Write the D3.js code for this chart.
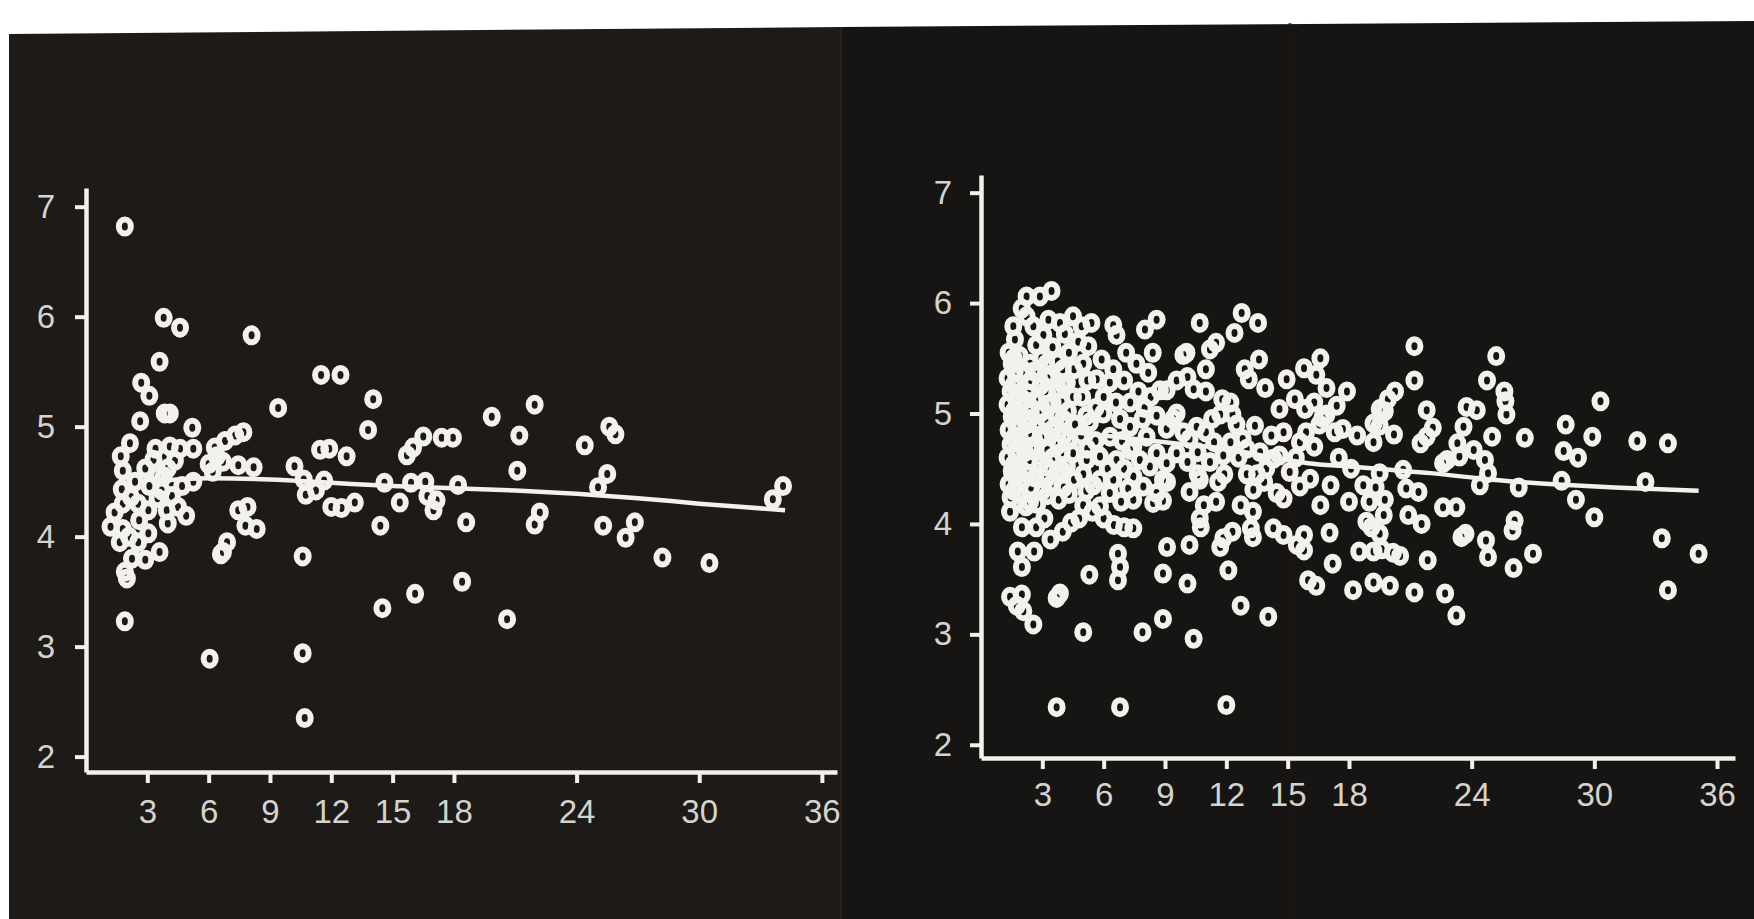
<!DOCTYPE html>
<html>
<head>
<meta charset="utf-8">
<script src="https://cdn.jsdelivr.net/npm/d3@7"></script>
<style>
  body { margin: 0; background: #ffffff; }
  svg { display: block; }
</style>
</head>
<body>
<svg id="chart" width="1754" height="919"></svg>
<script>
// ---- data ----
const yTicks = [2, 3, 4, 5, 6, 7];
const xTicks = [3, 6, 9, 12, 15, 18, 24, 30, 36];

// left panel: [x, y]
const leftPoints = [
  [1.9, 6.82], [3.8, 5.99], [4.6, 5.90], [8.1, 5.83], [3.6, 5.59], [2.7, 5.40], [3.1, 5.28],
  [2.65, 5.05], [3.85, 5.12], [4.1, 5.12], [5.2, 4.99], [9.4, 5.17], [11.5, 5.47], [12.45, 5.47],
  [14.05, 5.25], [13.8, 4.97], [19.85, 5.09], [21.95, 5.2], [21.2, 4.92], [24.4, 4.83], [25.6, 5.0],
  [25.9, 4.93], [21.1, 4.6], [25.5, 4.57], [25.05, 4.45], [34.1, 4.46], [33.6, 4.34], [22.2, 4.22],
  [21.95, 4.11], [18.6, 4.13], [25.3, 4.1], [26.85, 4.13], [26.4, 3.99], [28.2, 3.81], [30.5, 3.76],
  [18.4, 3.59], [20.6, 3.25], [18.2, 4.47], [11.45, 4.79], [11.9, 4.8], [12.75, 4.73], [15.7, 4.74],
  [16.0, 4.81], [16.5, 4.91], [17.4, 4.9], [17.95, 4.9], [10.2, 4.64], [10.65, 4.52], [10.75, 4.38],
  [11.25, 4.42], [11.65, 4.51], [12.0, 4.27], [12.5, 4.26], [13.15, 4.31], [14.6, 4.49], [15.35, 4.31],
  [15.9, 4.49], [16.6, 4.5], [16.7, 4.37], [17.15, 4.33], [17.0, 4.24], [14.4, 4.1], [10.6, 3.82],
  [16.1, 3.48], [14.5, 3.35], [10.6, 2.94], [10.7, 2.35], [6.05, 2.89], [1.9, 3.23], [7.45, 4.24],
  [7.9, 4.27], [7.8, 4.1], [8.35, 4.07], [6.7, 3.86], [6.9, 3.95], [6.6, 3.84], [7.7, 4.95],
  [7.3, 4.92], [6.8, 4.87], [6.3, 4.81], [6.4, 4.73], [5.25, 4.8], [4.6, 4.8], [4.1, 4.82],
  [3.4, 4.8], [4.35, 4.69], [2.15, 4.85], [1.7, 4.73], [6.0, 4.66], [6.7, 4.68], [7.45, 4.65],
  [8.2, 4.63], [5.25, 4.5], [2.9, 4.62], [3.5, 4.56], [1.8, 4.6], [6.2, 4.59], [1.75, 4.43],
  [2.2, 4.36], [3.1, 4.46], [3.7, 4.42], [4.2, 4.37], [2.55, 4.3], [3.05, 4.24], [3.95, 4.24],
  [4.5, 4.27], [4.9, 4.19], [4.0, 4.12], [1.4, 4.22], [1.2, 4.09], [1.8, 4.07], [1.65, 3.95],
  [2.55, 3.95], [3.05, 4.03], [3.6, 3.86], [2.9, 3.79], [2.25, 3.8], [1.9, 3.68], [2.0, 3.62],
  [3.8, 4.55], [4.0, 4.62], [3.3, 4.7], [2.4, 4.5], [1.8, 4.3], [2.6, 4.15], [3.5, 4.35],
  [4.7, 4.46], [2.1, 4.0]
];
const leftTrend = [
  [3.2, 4.50], [6, 4.53], [9, 4.52], [12, 4.49], [15, 4.46], [18, 4.44], [21, 4.42],
  [24, 4.39], [27, 4.35], [30, 4.30], [34.2, 4.24]
];

// right panel: [x, y]
const rightPoints = [
  // upper cluster
  [3.45, 6.11], [2.88, 6.06], [2.23, 6.06], [1.99, 5.95], [1.58, 5.79], [1.66, 5.67], [2.23, 5.88],
  [2.56, 5.79], [3.05, 5.71], [3.86, 5.82], [4.5, 5.88], [4.92, 5.79], [5.4, 5.82], [4.76, 5.65],
  [5.25, 5.61], [6.47, 5.8], [6.63, 5.71], [5.9, 5.49], [8.02, 5.76], [8.59, 5.85], [8.4, 5.55],
  [9.9, 5.53], [4.1, 5.72], [3.3, 5.85],
  // x 5 to 10
  [6.47, 5.4], [5.66, 5.31], [6.3, 5.28], [8.18, 5.37], [8.75, 5.21], [9.08, 5.21], [9.57, 5.3],
  [8.59, 4.98], [9.57, 5.0], [9.08, 4.86], [9.9, 4.83], [5.33, 4.92], [5.98, 5.0], [6.31, 4.79],
  [5.82, 4.61], [5.17, 4.58], [6.63, 4.58], [7.29, 4.88], [7.29, 4.67], [8.1, 4.79], [6.8, 4.95],
  [9.57, 4.64], [9.08, 4.55], [8.59, 4.64], [8.26, 4.52], [8.9, 4.4], [8.59, 4.28], [8.42, 4.19],
  [8.9, 4.21], [7.45, 4.7], [7.77, 4.58], [7.45, 4.43], [7.94, 4.34], [7.45, 4.22], [5.82, 4.4],
  [6.47, 4.4], [6.85, 4.2], [5.82, 4.16], [5.45, 4.11], [6.0, 5.15], [6.6, 5.1], [7.0, 5.3],
  [7.3, 5.1], [7.6, 5.45], [7.1, 5.55], [5.6, 5.05], [6.9, 4.75], [5.6, 4.75], [6.2, 4.5],
  [7.0, 4.5], [5.5, 4.35], [6.3, 4.28], [7.2, 4.32], [7.7, 5.2], [8.0, 5.05], [7.9, 4.95],
  [9.1, 4.38], [9.4, 4.95], [8.3, 5.15],
  // dense block near the y axis
  [1.35, 5.55], [1.5, 5.45], [1.3, 5.32], [1.45, 5.2], [1.3, 5.08], [1.5, 4.97], [1.35, 4.85],
  [1.45, 4.72], [1.3, 4.6], [1.5, 4.48], [1.35, 4.36], [1.45, 4.24], [1.9, 5.52], [2.15, 5.38],
  [1.8, 5.25], [2.1, 5.12], [1.85, 5.0], [2.2, 4.9], [1.9, 4.78], [2.15, 4.65], [1.8, 4.52],
  [2.05, 4.4], [1.85, 4.28], [2.2, 4.16], [2.7, 5.62], [2.95, 5.5], [2.6, 5.38], [2.9, 5.25],
  [2.65, 5.12], [3.0, 5.02], [2.7, 4.9], [2.95, 4.78], [2.6, 4.66], [2.9, 4.54], [2.65, 4.42],
  [3.0, 4.3], [2.75, 4.18], [3.5, 5.6], [3.75, 5.47], [3.4, 5.35], [3.8, 5.22], [3.5, 5.1],
  [3.7, 4.97], [3.45, 4.85], [3.8, 4.72], [3.5, 4.6], [3.75, 4.47], [3.4, 4.35], [3.8, 4.22],
  [4.3, 5.55], [4.55, 5.4], [4.2, 5.28], [4.5, 5.15], [4.25, 5.02], [4.6, 4.9], [4.3, 4.77],
  [4.5, 4.64], [4.2, 4.52], [4.55, 4.4], [4.3, 4.27], [5.0, 5.45], [5.2, 5.3], [4.95, 5.15],
  [5.15, 4.98], [4.9, 4.8], [5.2, 4.68], [5.0, 4.45], [5.15, 4.3],
  [1.6, 5.5], [1.65, 5.38], [1.6, 5.26], [1.7, 5.14], [1.6, 5.02], [1.7, 4.9], [1.6, 4.78],
  [1.7, 4.66], [1.6, 4.54], [1.7, 4.42], [1.6, 4.3], [2.4, 5.45], [2.45, 5.3], [2.35, 5.18],
  [2.45, 5.05], [2.4, 4.95], [2.35, 4.82], [2.45, 4.7], [2.4, 4.58], [2.35, 4.45], [2.45, 4.33],
  [2.4, 4.2], [3.2, 5.45], [3.25, 5.32], [3.15, 5.2], [3.25, 5.08], [3.2, 4.93], [3.15, 4.8],
  [3.25, 4.67], [3.2, 4.52], [3.15, 4.4], [3.25, 4.26], [4.0, 5.4], [4.05, 5.25], [3.95, 5.1],
  [4.0, 4.95], [4.05, 4.8], [3.95, 4.65], [4.0, 4.48], [4.05, 4.33],
  // low, x below 10
  [1.42, 4.11], [2.0, 3.97], [2.7, 3.97], [3.4, 3.86], [4.0, 3.93], [4.4, 4.01], [1.8, 3.75],
  [2.6, 3.75], [2.0, 3.61], [1.42, 3.34], [2.0, 3.36], [1.75, 3.26], [2.07, 3.21], [2.56, 3.09],
  [3.86, 3.37], [3.7, 3.33], [5.0, 3.02], [5.3, 3.54], [6.7, 3.73], [6.8, 3.61], [6.7, 3.49],
  [7.9, 3.02], [8.9, 3.14], [8.9, 3.55], [9.1, 3.79], [7.45, 3.96], [7.0, 3.97], [6.5, 3.99],
  [6.0, 4.05], [5.0, 4.17], [3.7, 2.34], [6.8, 2.34], [3.1, 4.05], [4.8, 4.05],
  // x 10 to 19.5
  [10.7, 5.82], [11.5, 5.64], [11.2, 5.58], [12.75, 5.91], [13.55, 5.82], [12.4, 5.73], [10.05, 5.55],
  [13.6, 5.49], [12.9, 5.4], [13.1, 5.31], [13.9, 5.23], [14.95, 5.31], [15.8, 5.41], [16.6, 5.5],
  [16.9, 5.23], [17.9, 5.2], [16.4, 5.35], [11.0, 5.4], [11.8, 5.13], [12.3, 4.99], [11.7, 4.99],
  [14.6, 5.04], [15.35, 5.13], [15.85, 5.04], [16.3, 5.1], [13.4, 4.89], [16.9, 4.99], [17.4, 5.07],
  [17.7, 4.86], [17.3, 4.83], [14.8, 4.83], [15.9, 4.83], [15.6, 4.74], [18.4, 4.8], [19.2, 4.74],
  [19.2, 4.91], [19.5, 5.04], [10.2, 4.77], [11.0, 4.83], [11.4, 4.74], [12.2, 4.74], [12.8, 4.77],
  [11.85, 4.62], [11.2, 4.56], [13.65, 4.65], [14.3, 4.59], [14.6, 4.62], [13.95, 4.5], [15.1, 4.47],
  [16.1, 4.41], [14.8, 4.23], [17.1, 4.35], [16.6, 4.17], [18.0, 4.2], [18.7, 4.35], [19.0, 4.2],
  [18.85, 4.02], [10.2, 4.29], [10.9, 4.17], [11.5, 4.2], [10.7, 4.05], [12.7, 4.17], [13.3, 4.11],
  [13.2, 3.96], [11.85, 3.87], [12.3, 3.93], [14.3, 3.96], [14.8, 3.9], [15.45, 3.81], [15.8, 3.9],
  [10.2, 3.81], [10.1, 5.33], [10.4, 5.22], [11.0, 5.2], [12.2, 5.1], [10.55, 4.88], [11.3, 4.95],
  [12.6, 4.6], [13.0, 4.45], [10.6, 4.45], [11.6, 4.38], [10.6, 4.65], [12.5, 4.9], [13.0, 4.68],
  [11.9, 4.45], [16.7, 4.96], [16.55, 4.9], [14.2, 4.8], [15.4, 4.6], [17.5, 4.6], [18.1, 4.5],
  [16.3, 4.7], [10.75, 3.97], [10.1, 4.56], [10.7, 4.4], [14.46, 4.28], [15.6, 4.34], [13.32, 4.31],
  [13.5, 4.45], [13.85, 4.38], [13.3, 3.88], [17.05, 3.92],
  [10.4, 2.96], [10.1, 3.46], [12.1, 3.58], [12.7, 3.26], [14.05, 3.16], [12.0, 2.36], [11.7, 3.79],
  [15.8, 3.76], [16.0, 3.49], [16.4, 3.44], [17.2, 3.64], [18.2, 3.4], [18.5, 3.75], [19.2, 3.75],
  [19.2, 3.47],
  // x above 19.5
  [21.2, 5.61], [25.2, 5.52], [21.2, 5.30], [24.75, 5.30], [25.6, 5.20], [25.65, 5.11], [25.7, 4.99],
  [30.3, 5.11], [28.6, 4.90], [29.9, 4.79], [32.1, 4.75], [33.6, 4.73], [28.5, 4.66], [29.2, 4.60],
  [26.6, 4.78], [25.0, 4.79], [23.75, 5.06], [24.25, 5.03], [23.6, 4.88], [23.3, 4.73], [23.4, 4.61],
  [22.8, 4.58], [22.6, 4.55], [24.1, 4.67], [24.65, 4.58], [24.8, 4.46], [24.4, 4.35], [21.8, 5.03],
  [22.1, 4.87], [21.5, 4.73], [21.8, 4.79], [20.25, 5.20], [19.9, 5.13], [19.75, 5.02], [19.5, 4.89],
  [20.2, 4.81], [19.5, 4.46], [19.3, 4.33], [20.65, 4.49], [20.8, 4.32], [21.4, 4.29], [19.75, 4.22],
  [19.7, 4.08], [19.1, 3.97], [19.5, 3.91], [20.9, 4.08], [21.55, 4.0], [22.6, 4.15], [23.25, 4.15],
  [26.3, 4.33], [28.4, 4.39], [29.1, 4.22], [30.0, 4.06], [32.5, 4.38], [26.1, 4.03], [26.0, 3.94],
  [23.5, 3.88], [23.7, 3.91], [24.7, 3.85], [24.8, 3.70], [27.0, 3.73], [26.05, 3.60], [33.3, 3.87],
  [35.1, 3.73], [33.6, 3.40], [20.0, 3.44], [21.2, 3.38], [21.85, 3.67], [22.7, 3.37], [23.25, 3.17],
  [20.15, 3.74], [20.5, 3.71], [19.6, 3.77]
];
const rightTrend = [
  [2, 4.88], [4, 4.84], [6, 4.80], [8, 4.76], [10, 4.72], [12, 4.68], [14, 4.61], [16, 4.55],
  [18, 4.52], [20, 4.49], [22, 4.46], [25, 4.40], [28, 4.36], [31, 4.33], [35.1, 4.30]
];

const svg = d3.select('#chart');
const ink = '#f2f1ec';
const labelInk = '#d4d3ce';

// the photographed black plate, slightly skewed on the white page
svg.append('polygon')
  .attr('points', '9,34 841,27 841,919 9,919')
  .attr('fill', '#1d1a17');
svg.append('polygon')
  .attr('points', '841,27 1754,21 1754,919 841,919')
  .attr('fill', '#171513');
svg.append('line')
  .attr('x1', 841).attr('x2', 841).attr('y1', 27).attr('y2', 919)
  .attr('stroke', '#26231f').attr('stroke-width', 2);
svg.append('line')
  .attr('x1', 1290).attr('x2', 1290).attr('y1', 23).attr('y2', 919)
  .attr('stroke', '#201511').attr('stroke-width', 3).attr('opacity', 0.7);

/**
 * Draw one scatter panel with its axes, rings and trend line.
 */
function drawPanel({ points, trend, xRange, yDomain, yRange, labelPad }) {
  const x = d3.scaleLinear().domain([0, xRange[2]]).range([xRange[0], xRange[1]]);
  const y = d3.scaleLinear().domain(yDomain).range(yRange);
  const g = svg.append('g');

  const yAxis = g.append('g')
    .attr('transform', `translate(${x(0)},0)`)
    .call(d3.axisLeft(y).tickValues(yTicks).tickFormat(d3.format('d'))
      .tickSize(11).tickSizeOuter(0).tickPadding(labelPad.y));
  const xAxis = g.append('g')
    .attr('transform', `translate(0,${y(yDomain[0])})`)
    .call(d3.axisBottom(x).tickValues(xTicks).tickFormat(d3.format('d'))
      .tickSize(11).tickSizeOuter(0).tickPadding(labelPad.x));

  [yAxis, xAxis].forEach(ax => {
    ax.select('.domain').attr('stroke', ink).attr('stroke-width', 4.5);
    ax.selectAll('.tick line').attr('stroke', ink).attr('stroke-width', 4);
    ax.selectAll('.tick text')
      .attr('fill', labelInk)
      .attr('font-family', '"Liberation Sans", Arial, sans-serif')
      .attr('font-size', 33);
  });

  g.append('g')
    .selectAll('ellipse')
    .data(points)
    .enter()
    .append('ellipse')
    .attr('cx', d => x(d[0]))
    .attr('cy', d => y(d[1]))
    .attr('rx', 6)
    .attr('ry', 7)
    .attr('fill', 'none')
    .attr('stroke', ink)
    .attr('stroke-width', 6);

  g.append('path')
    .datum(trend)
    .attr('d', d3.line().x(d => x(d[0])).y(d => y(d[1])).curve(d3.curveMonotoneX))
    .attr('fill', 'none')
    .attr('stroke', ink)
    .attr('stroke-width', 4.5);
}

drawPanel({
  points: leftPoints,
  trend: leftTrend,
  xRange: [86, 837, 36.74],
  yDomain: [1.86, 7.17],
  yRange: [772, 188],
  labelPad: { x: 17, y: 20 }
});

drawPanel({
  points: rightPoints,
  trend: rightTrend,
  xRange: [981, 1735, 36.88],
  yDomain: [1.88, 7.16],
  yRange: [758, 175],
  labelPad: { x: 14, y: 18 }
});
</script>
</body>
</html>
